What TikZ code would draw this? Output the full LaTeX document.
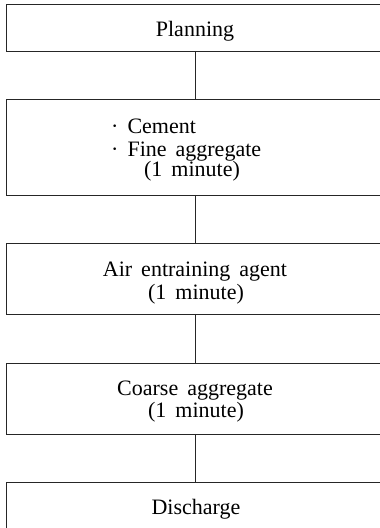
\documentclass[tikz,border=0pt]{standalone}
\usepackage{fontspec}
\setmainfont{Liberation Serif}
\newcommand{\boxfont}{\fontsize{22}{24}\selectfont\spaceskip=9pt\relax}
\begin{document}
\begin{tikzpicture}[x=1pt,y=1pt,
  box/.style={draw=black!85,line width=1pt,rectangle,minimum width=380pt,inner sep=0pt,anchor=north west},
  lbl/.style={anchor=base,inner sep=0pt,font=\boxfont},
  link/.style={draw=black!85,line width=1pt}]
\useasboundingbox (0,0) rectangle (380,528);
\clip (0,0) rectangle (380,528);
% boxes (top-left corner, height)
\node[box,minimum height=47pt] (plan) at (5.5,524) {};
\node[box,minimum height=96pt] (cem) at (5.5,429) {};
\node[box,minimum height=71pt] (air) at (5.5,285) {};
\node[box,minimum height=71pt] (coa) at (5.5,165) {};
\node[box,minimum height=70pt] (dis) at (5.5,46) {};
% connectors
\coordinate (p1) at (195,477);
\coordinate (p2) at (195,429);
\coordinate (p3) at (195,333);
\coordinate (p4) at (195,285);
\coordinate (p5) at (195,214);
\coordinate (p6) at (195,165);
\coordinate (p7) at (195,94);
\coordinate (p8) at (195,46);
\draw[link] (p1) -- (p2);
\draw[link] (p3) -- (p4);
\draw[link] (p5) -- (p6);
\draw[link] (p7) -- (p8);
% texts
\node[lbl] (tplan) at (195,491) {Planning};
\node[lbl,anchor=base west] (tc1) at (111,394) {·\hspace{9pt}Cement};
\node[lbl,anchor=base west] (tc2) at (111,371) {·\hspace{9pt}Fine aggregate};
\node[lbl] (tc3) at (192,351) {(1 minute)};
\node[lbl] (ta1) at (195,251) {Air entraining agent};
\node[lbl] (ta2) at (196,228) {(1 minute)};
\node[lbl] (tk1) at (195,132) {Coarse aggregate};
\node[lbl] (tk2) at (196,110) {(1 minute)};
\node[lbl] (td) at (196,13) {Discharge};
\end{tikzpicture}
\end{document}
